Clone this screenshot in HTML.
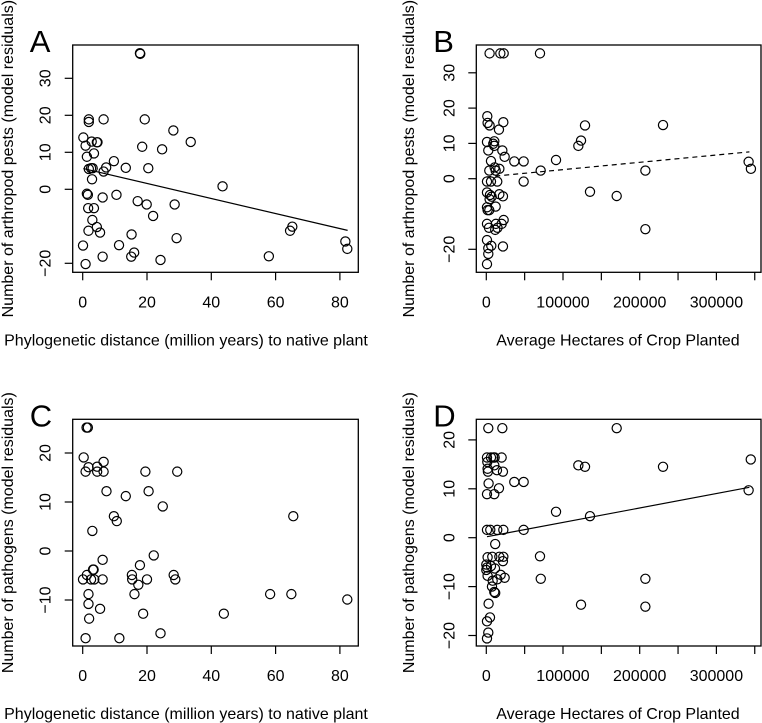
<!DOCTYPE html>
<html><head><meta charset="utf-8">
<style>
html,body{margin:0;padding:0;background:#fff;}
svg{display:block;font-family:"Liberation Sans",Arial,sans-serif;}
</style></head>
<body>
<svg id="fig" width="762" height="723" viewBox="0 0 762 723" xmlns="http://www.w3.org/2000/svg"></svg>
<script>
// ---- Panel A data: phylogenetic distance vs arthropod pest residuals
const aX = [17.8,17.9,1.9,1.9,6.5,19.3,28.2,33.6,0.2,0.9,2.8,4.4,4.6,18.5,24.7,1.3,3.5,9.7,2.6,3.1,1.9,7.3,6.5,13.4,20.4,2.9,43.5,1.3,1.6,10.5,6.2,17.1,19.9,28.6,1.7,3.5,3.0,21.9,4.4,1.8,5.4,15.2,29.2,65.2,64.5,81.7,82.3,0.1,11.3,15.1,16.0,6.2,24.2,57.9,0.9];
const aY = [36.8,36.6,18.9,18.2,18.9,18.9,15.9,12.8,14,11.8,12.9,12.7,12.7,11.5,10.8,8.8,9.7,7.6,5.7,5.7,5.5,5.9,4.8,5.8,5.7,2.7,0.8,-1.2,-1.5,-1.5,-2.2,-3.2,-4.1,-4.1,-5.1,-5.1,-8.3,-7.2,-10.2,-11.2,-11.7,-12.2,-13.2,-10.1,-11.2,-14.1,-16.1,-15.2,-15.1,-18.2,-17.1,-18.2,-19.1,-18.1,-20.2];
const aFit = [0.2, 5.6, 82.4, -11.1];
// ---- Panel B data: hectares vs arthropod pest residuals
const bX = [4300,18300,22600,70000,1300,1700,4300,16500,22200,900,10400,9100,10400,2600,20900,23900,6100,36500,48700,90900,10900,17000,3900,12200,70900,207400,128700,123500,120000,230400,342000,345000,900,6100,14300,48700,900,4800,17000,21700,7000,4300,135200,170000,900,1700,12200,3900,900,3500,12500,11600,14600,20000,22600,207400,900,2600,6500,21700,2600,900];
const bY = [35.5,35.5,35.5,35.5,17.7,15.8,15.1,13.9,16.0,10.4,10.6,9.9,9.3,8.0,8.0,6.2,5.0,4.9,4.9,5.3,3.2,2.8,2.3,2.3,2.3,2.3,15.1,10.8,9.3,15.2,4.8,2.8,-0.8,-0.8,-0.8,-0.8,-3.9,-4.6,-4.4,-5.0,-5.1,-5.8,-3.7,-4.9,-8.1,-8.9,-7.9,-8.9,-12.8,-13.9,-12.8,-14.5,-13.9,-12.8,-11.7,-14.3,-17.4,-19.7,-19.0,-19.2,-21.3,-24.2];
const bFit = [0, 0.5, 343000, 7.6];
// ---- Panel C data: phylogenetic distance vs pathogen residuals
const cX = [1.2,1.6,0.3,1.8,0.9,4.5,4.5,6.5,6.5,19.5,29.4,7.4,20.5,13.4,24.9,9.7,10.6,3.0,65.5,22.1,6.2,0.1,1.3,2.6,3.4,3.2,3.6,6.2,15.3,15.4,17.8,20.0,17.3,28.3,28.8,1.8,16.1,58.3,64.9,82.3,1.8,5.4,2.0,18.8,43.9,0.9,11.4,24.2];
const cY = [25.2,25.2,19.1,17.1,16.2,17.2,16.2,18.2,16.2,16.2,16.2,12.2,12.2,11.2,9.1,7.1,6.1,4.1,7.1,-0.9,-1.8,-5.8,-4.9,-5.8,-3.8,-3.8,-5.8,-5.8,-4.9,-5.8,-2.9,-5.8,-6.9,-4.9,-5.8,-8.8,-8.8,-8.8,-8.8,-9.9,-10.8,-11.8,-13.8,-12.8,-12.8,-17.8,-17.8,-16.8];
// ---- Panel D data: hectares vs pathogen residuals
const dX = [2600,20900,170000,344800,900,6100,9100,10900,20000,1300,10400,13900,1700,2100,21700,120000,128700,230400,36500,48700,3000,16500,900,10400,342000,90900,135200,900,5200,14300,22200,48700,11600,1700,7800,17000,22200,21700,70000,0,900,0,6100,11300,1700,14300,18700,23900,8300,71000,207400,7400,11600,10400,123500,207400,3000,4800,900,2600,900];
const dY = [22.4,22.4,22.4,16.0,16.4,16.4,16.4,16.4,16.4,15.5,14.8,13.8,14.1,13.5,13.5,14.8,14.5,14.5,11.4,11.4,11.1,10.1,8.9,8.9,9.7,5.3,4.4,1.6,1.6,1.6,1.6,1.6,-1.3,-4.0,-3.9,-3.9,-3.9,-4.8,-3.8,-5.5,-6.1,-6.6,-5.8,-6.3,-7.8,-8.5,-7.6,-8.2,-8.8,-8.4,-8.4,-10.0,-11.3,-11.1,-13.7,-14.1,-13.5,-16.3,-17.1,-19.4,-20.6];
const dFit = [900, 0.2, 343000, 10.3];
// tick labels
const phyTicks = [0,20,40,60,80];
const hecTicks = [0,50000,100000,150000,200000,250000,300000,350000];
const hecLabels = [0,100000,200000,300000];
const aYTicks = [-20,0,10,20,30];
const bYTicks = [-20,0,10,20,30];
const cYTicks = [-10,0,10,20];
const dYTicks = [-20,-10,0,10,20];

const NS = "http://www.w3.org/2000/svg";
const svg = document.getElementById('fig');
function el(tag, attrs, parent){
  const e = document.createElementNS(NS, tag);
  for (const k in attrs) e.setAttribute(k, attrs[k]);
  (parent||svg).appendChild(e);
  return e;
}
function panel(cfg){
  const g = el('g', {});
  
  
  const sx = v => cfg.x0 + (v - cfg.xv0) * cfg.xs;
  const sy = v => cfg.y0 - v * cfg.ys;
  const box = el('rect', {x:cfg.L, y:cfg.T, width:cfg.R-cfg.L, height:cfg.B-cfg.T, fill:'none', stroke:'#000', 'stroke-width':1.3}, g);
  
  
  cfg.xticks.forEach(t => {
    const tk = el('line', {x1:sx(t), x2:sx(t), y1:cfg.B, y2:cfg.B+8, stroke:'#000', 'stroke-width':1.2}, g);
    
    
  });
  cfg.xlabels.forEach(t => {
    const tx = el('text', {x:sx(t), y:cfg.B+35, 'text-anchor':'middle', 'font-size':16}, g);
    tx.textContent = t;
    
    
  });
  cfg.yticks.forEach(t => {
    const tk = el('line', {x1:cfg.L-8, x2:cfg.L, y1:sy(t), y2:sy(t), stroke:'#000', 'stroke-width':1.2}, g);
    
    
    const lx = cfg.L - 22;
    const tx = el('text', {x:lx, y:sy(t), 'text-anchor':'middle', 'font-size':16, transform:`rotate(-90 ${lx} ${sy(t)})`}, g);
    tx.textContent = t < 0 ? '\u2212' + (-t) : t;
    
    
  });
  const xt = el('text', {x:cfg.xtx, y:cfg.B+73, 'text-anchor':'middle', 'font-size':16}, g);
  xt.textContent = cfg.xtitle;
  
  
  const cy = (cfg.T + cfg.B)/2;
  const yt = el('text', {x:cfg.ytx, y:cy, 'text-anchor':'middle', 'font-size':16, transform:`rotate(-90 ${cfg.ytx} ${cy})`}, g);
  yt.textContent = cfg.ytitle;
  
  
  const lt = el('text', {x:cfg.L-43, y:cfg.T+7, 'font-size':31}, g);
  lt.textContent = cfg.letter;
  
  
  cfg.px.forEach((v, i) => {
    const c = el('circle', {cx:sx(v), cy:sy(cfg.py[i]), r:4.6, fill:'none', stroke:'#000', 'stroke-width':1.2}, g);
    
    
  });
  if (cfg.fit){
    const f = cfg.fit;
    const ln = el('line', {x1:sx(f[0]), y1:sy(f[1]), x2:sx(f[2]), y2:sy(f[3]), stroke:'#000', 'stroke-width':1.2}, g);
    if (cfg.dash) ln.setAttribute('stroke-dasharray', '5,4');
    
    
  }
}
const phyT = 'Phylogenetic distance (million years) to native plant';
const hecT = 'Average Hectares of Crop Planted';
panel({name:'panel-a', letter:'A', L:72.7, R:358.3, T:45, B:272.3, x0:82.7, xv0:0, xs:64.3/20, y0:189.3, ys:3.7,
  xticks:phyTicks, xlabels:phyTicks, yticks:aYTicks, xtitle:phyT, ytitle:'Number of arthropod pests (model residuals)',
  xtx:186, ytx:13, px:aX, py:aY, fit:aFit});
panel({name:'panel-b', letter:'B', L:476.3, R:761, T:45, B:272.3, x0:486.3, xv0:0, xs:76.7/100000, y0:178.7, ys:3.53,
  xticks:hecTicks, xlabels:hecLabels, yticks:bYTicks, xtitle:hecT, ytitle:'Number of arthropod pests (model residuals)',
  xtx:618, ytx:414, px:bX, py:bY, fit:bFit, dash:true});
panel({name:'panel-c', letter:'C', L:72.7, R:358.3, T:419.3, B:646, x0:82.7, xv0:0, xs:64.3/20, y0:551, ys:4.9,
  xticks:phyTicks, xlabels:phyTicks, yticks:cYTicks, xtitle:phyT, ytitle:'Number of pathogens (model residuals)',
  xtx:186, ytx:13, px:cX, py:cY});
panel({name:'panel-d', letter:'D', L:476.3, R:761, T:419.3, B:646, x0:486.3, xv0:0, xs:76.7/100000, y0:537.7, ys:4.89,
  xticks:hecTicks, xlabels:hecLabels, yticks:dYTicks, xtitle:hecT, ytitle:'Number of pathogens (model residuals)',
  xtx:618, ytx:414, px:dX, py:dY, fit:dFit});
</script>
</body></html>
